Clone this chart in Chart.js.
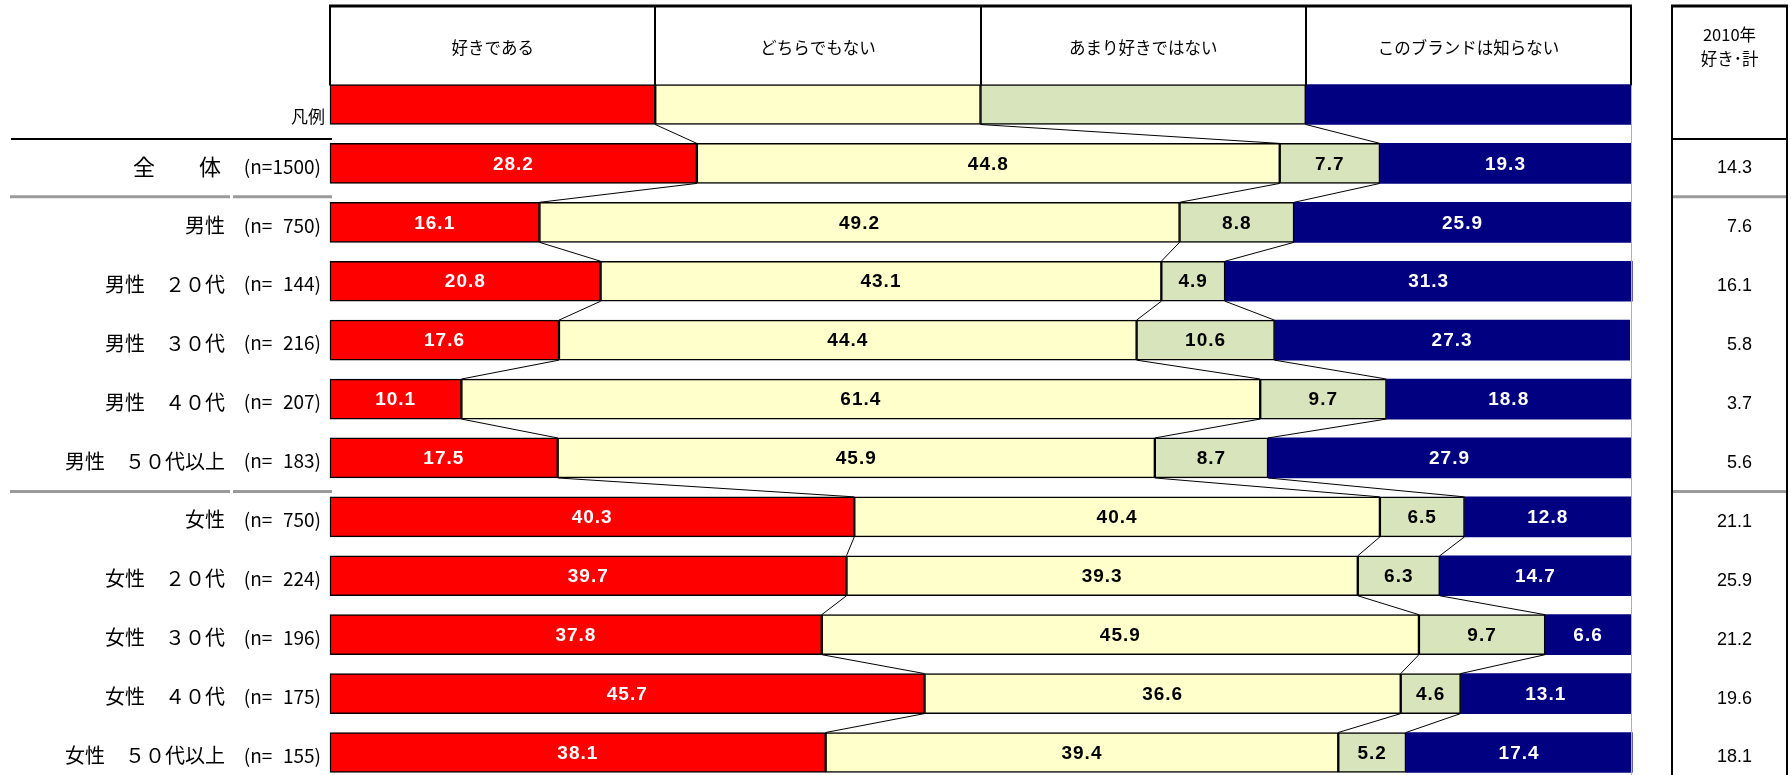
<!DOCTYPE html>
<html>
<head>
<meta charset="utf-8">
<script src="https://cdn.jsdelivr.net/npm/chart.js@4/dist/chart.umd.min.js"></script>
<style>
    html, body { margin: 0; padding: 0; background: #fff; }
</style>
</head>
<body>
<canvas id="barChart" width="1791" height="775"></canvas>
<script>
// datos (la primera fila es el "凡例")
const categorias = ["凡例", "全　　体", "男性", "男性　２０代", "男性　３０代", "男性　４０代", "男性　５０代以上",
    "女性", "女性　２０代", "女性　３０代", "女性　４０代", "女性　５０代以上"];
// el espacio es un "figure space" para que quede alineado como en el original
const muestrasN = ["", "(n=1500)", "(n=\u2007750)", "(n=\u2007144)", "(n=\u2007216)", "(n=\u2007207)", "(n=\u2007183)",
    "(n=\u2007750)", "(n=\u2007224)", "(n=\u2007196)", "(n=\u2007175)", "(n=\u2007155)"];
const seriesNombres = ["好きである", "どちらでもない", "あまり好きではない", "このブランドは知らない"];
const gusta = [25, 28.2, 16.1, 20.8, 17.6, 10.1, 17.5, 40.3, 39.7, 37.8, 45.7, 38.1];
const neutral = [25, 44.8, 49.2, 43.1, 44.4, 61.4, 45.9, 40.4, 39.3, 45.9, 36.6, 39.4];
const noGusta = [25, 7.7, 8.8, 4.9, 10.6, 9.7, 8.7, 6.5, 6.3, 9.7, 4.6, 5.2];
const noConoce = [25, 19.3, 25.9, 31.3, 27.3, 18.8, 27.9, 12.8, 14.7, 6.6, 13.1, 17.4];
const gusta2010 = [null, 14.3, 7.6, 16.1, 5.8, 3.7, 5.6, 21.1, 25.9, 21.2, 19.6, 18.1];
const titulo2010 = ["2010年", "好き･計"];

const colores = ["#FF0000", "#FFFFCC", "#D8E4BC", "#000080"];
const coloresTexto = ["#FFFFFF", "#000000", "#000000", "#FFFFFF"];
const fuenteJp = '"Noto Sans CJK JP", sans-serif';

// dibuja cabecera, etiquetas, líneas de unión y tabla de la derecha
const extras = {
    id: "extras",
    beforeDraw(chart) {
        const ctx = chart.ctx;
        ctx.save();
        ctx.fillStyle = "#fff";
        ctx.fillRect(0, 0, chart.width, chart.height);
        ctx.restore();
    },
    afterDatasetsDraw(chart) {
        const ctx = chart.ctx;
        const xs = chart.scales.x;
        const ys = chart.scales.y;
        const izq = xs.getPixelForValue(0);
        const der = xs.getPixelForValue(100);
        ctx.save();

        // líneas entre barras
        ctx.strokeStyle = "#000";
        ctx.lineWidth = 1;
        for (let d = 0; d < 3; d++) {
            const meta = chart.getDatasetMeta(d);
            for (let i = 0; i < categorias.length - 1; i++) {
                const a = meta.data[i];
                const b = meta.data[i + 1];
                ctx.beginPath();
                ctx.moveTo(a.x, a.y + a.height / 2);
                ctx.lineTo(b.x, b.y - b.height / 2);
                ctx.stroke();
            }
        }

        // valores dentro de las barras
        ctx.font = "bold 19px 'Liberation Sans', Arial, sans-serif";
        ctx.letterSpacing = "1px";
        ctx.textAlign = "center";
        ctx.textBaseline = "middle";
        chart.data.datasets.forEach((ds, d) => {
            const meta = chart.getDatasetMeta(d);
            meta.data.forEach((el, i) => {
                if (i === 0) return;
                ctx.fillStyle = coloresTexto[d];
                ctx.fillText(ds.data[i].toFixed(1), (el.x + el.base) / 2, el.y + 1);
            });
        });
        ctx.letterSpacing = "0px";

        // cabecera con los nombres de las series
        const arriba = 6;
        const yLeyenda = ys.getPixelForValue(0);
        const abajo = yLeyenda - 19;
        ctx.strokeStyle = "#000";
        ctx.lineWidth = 2;
        [0, 25, 50, 75, 100].forEach(v => {
            const x = Math.round(xs.getPixelForValue(v));
            ctx.beginPath();
            ctx.moveTo(x, arriba);
            ctx.lineTo(x, abajo);
            ctx.stroke();
        });
        ctx.lineWidth = 3;
        ctx.beginPath();
        ctx.moveTo(izq - 1, arriba);
        ctx.lineTo(der + 1, arriba);
        ctx.stroke();
        ctx.fillStyle = "#000";
        ctx.font = "16.5px " + fuenteJp;
        seriesNombres.forEach((n, k) => {
            ctx.fillText(n, xs.getPixelForValue(12.5 + 25 * k), 48);
        });

        // borde derecho del área
        ctx.strokeStyle = "#b0b0b0";
        ctx.lineWidth = 1;
        ctx.beginPath();
        ctx.moveTo(der + 0.5, abajo);
        ctx.lineTo(der + 0.5, chart.height);
        ctx.stroke();

        // etiquetas de la izquierda
        ctx.textAlign = "right";
        ctx.fillStyle = "#000";
        categorias.forEach((c, i) => {
            const y = ys.getPixelForValue(i);
            if (i === 0) {
                ctx.font = "17px " + fuenteJp;
                ctx.fillText(c, 325, y + 12);
                return;
            }
            if (i === 1) {
                ctx.font = "22px " + fuenteJp;
                ctx.fillText(c, 221, y + 3);
            } else {
                ctx.font = "20px " + fuenteJp;
                ctx.fillText(c, 225, y + 3);
            }
            ctx.font = "19px " + fuenteJp;
            ctx.fillText(muestrasN[i], 321, y + 3);
        });

        // tabla 2010
        const tIzq = 1672, tDer = 1787;
        ctx.strokeStyle = "#000";
        ctx.lineWidth = 2;
        ctx.beginPath();
        ctx.moveTo(tIzq, arriba);
        ctx.lineTo(tIzq, chart.height);
        ctx.moveTo(tDer, arriba);
        ctx.lineTo(tDer, chart.height);
        ctx.stroke();
        ctx.lineWidth = 3;
        ctx.beginPath();
        ctx.moveTo(tIzq - 1, arriba);
        ctx.lineTo(tDer + 1, arriba);
        ctx.stroke();
        ctx.textAlign = "center";
        ctx.font = "16.5px " + fuenteJp;
        ctx.fillText(titulo2010[0], (tIzq + tDer) / 2, 35);
        ctx.fillText(titulo2010[1], (tIzq + tDer) / 2, 59);
        ctx.textAlign = "right";
        ctx.font = "18px 'Liberation Sans', Arial, sans-serif";
        gusta2010.forEach((v, i) => {
            if (v === null) return;
            ctx.fillText(v.toFixed(1), 1752, ys.getPixelForValue(i) + 5);
        });

        // separadores horizontales
        const ySolida = (ys.getPixelForValue(0) + ys.getPixelForValue(1)) / 2 + 5;
        ctx.strokeStyle = "#000";
        ctx.lineWidth = 2;
        ctx.beginPath();
        ctx.moveTo(11, ySolida);
        ctx.lineTo(332, ySolida);
        ctx.moveTo(tIzq, ySolida);
        ctx.lineTo(tDer, ySolida);
        ctx.stroke();
        ctx.strokeStyle = "#9a9a9a";
        ctx.lineWidth = 3;
        [1, 6].forEach(i => {
            const y = (ys.getPixelForValue(i) + ys.getPixelForValue(i + 1)) / 2 + 4;
            ctx.beginPath();
            ctx.moveTo(10, y);
            ctx.lineTo(230, y);
            ctx.moveTo(233, y);
            ctx.lineTo(332, y);
            ctx.moveTo(tIzq + 1, y);
            ctx.lineTo(tDer - 1, y);
            ctx.stroke();
        });

        ctx.restore();
    }
};

const valores = [gusta, neutral, noGusta, noConoce];
const barCtx = document.getElementById("barChart").getContext("2d");
const barChart = new Chart(barCtx, {
    type: "bar",
    data: {
        labels: categorias,
        datasets: valores.map((v, d) => ({
            label: seriesNombres[d],
            data: v,
            backgroundColor: colores[d],
            borderColor: "#000",
            borderWidth: d === 3 ? 0 : 1.5,
            borderSkipped: false,
            barThickness: 40,
            clip: false,
        })),
    },
    options: {
        responsive: false,
        animation: false,
        indexAxis: "y",
        layout: {
            padding: { left: 330, right: 160, top: 104.5, bottom: 22.5 },
        },
        plugins: {
            legend: { display: false },
            tooltip: { enabled: false },
        },
        scales: {
            x: { stacked: true, min: 0, max: 100, display: false },
            y: { stacked: true, display: false, offset: false },
        },
    },
    plugins: [extras],
});
</script>
</body>
</html>
